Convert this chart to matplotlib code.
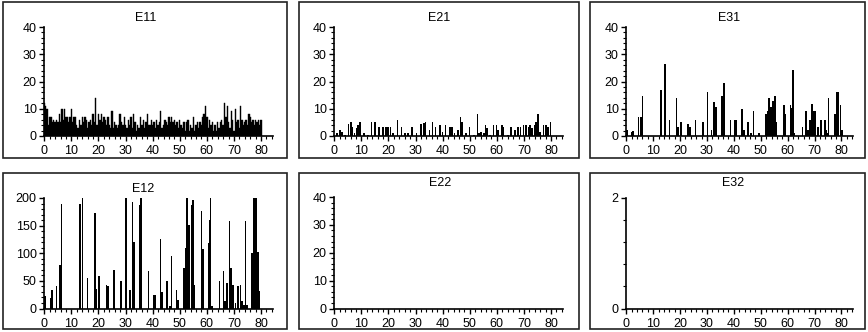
import matplotlib.pyplot as plt
import numpy as np
from matplotlib.patches import Rectangle
from matplotlib.ticker import MultipleLocator

plt.rcParams['font.family'] = ['Liberation Sans', 'DejaVu Sans']
plt.rcParams['font.size'] = 9

# E11 - one value every 0.5 from 0 to 80
e11 = [12, 11, 10, 4, 7, 7, 5, 6, 5, 6, 5, 8, 5, 10, 6, 10, 7, 7, 5, 7,
       10, 5, 7, 7, 4, 3, 6, 4, 7, 5, 7, 6, 3, 5, 6, 4, 8, 5, 14, 4,
       8, 6, 8, 5, 7, 6, 4, 7, 4, 3, 9, 3, 5, 4, 3, 4, 8, 5, 4, 7,
       4, 3, 6, 4, 7, 3, 8, 5, 2, 4, 3, 7, 4, 6, 3, 5, 8, 4, 4, 6,
       4, 5, 3, 6, 4, 5, 9, 3, 4, 6, 5, 4, 7, 5, 7, 5, 6, 4, 5, 3,
       6, 4, 3, 5, 2, 5, 6, 2, 4, 3, 7, 2, 4, 5, 3, 5, 4, 7, 8, 11,
       7, 3, 6, 4, 5, 2, 4, 2, 5, 3, 5, 6, 4, 12, 7, 11, 5, 3, 9, 6,
       2, 10, 5, 6, 3, 11, 6, 4, 5, 6, 4, 8, 7, 5, 6, 4, 6, 5, 6, 4, 6]
e11_x = np.arange(len(e11)) * 0.5

# E21
e21_x = [0.9, 2.0, 2.9, 4.0, 5.2, 6.1, 6.7, 7.5, 8.2, 8.8, 9.4, 10.9, 12.5, 13.7, 15.0,
         16.6, 18.0, 19.0, 19.9, 20.7, 21.7, 23.3, 24.8, 26.0, 27.2, 28.7, 30.3, 31.9,
         33.0, 33.6, 35.2, 36.2, 37.3, 38.9, 39.9, 41.1, 42.6, 43.4, 44.4, 45.6, 46.6,
         47.2, 48.5, 49.9, 51.5, 52.8, 53.4, 54.2, 55.2, 55.8, 56.4, 57.5, 58.8, 59.8,
         60.4, 61.8, 62.5, 64.0, 65.3, 66.7, 67.7, 68.7, 69.9, 70.8, 71.7, 72.3, 73.0,
         73.9, 74.5, 75.1, 75.9, 77.2, 78.2, 78.8, 79.8]
e21_y = [1.2, 2.2, 1.5, 0.5, 4.3, 5, 3.4, 1, 2.8, 4, 5, 1, 0.5, 5, 5,
         3.2, 3.2, 3.2, 3.2, 3.2, 1, 6, 3.2, 1, 1, 3.2, 1, 4.3,
         4.6, 5, 2.2, 5, 3.2, 4, 1.5, 4, 3.2, 3.2, 1, 2.2, 7,
         5, 1, 3.2, 0.5, 8, 1, 1.5, 1, 4, 2.8, 0.5, 4, 4,
         2.2, 4, 3.2, 0.5, 3.2, 2.2, 3.2, 3.2, 4, 4, 3.2, 4, 2.8,
         4, 5, 8, 1.5, 4, 4, 3.2, 5]

# E31
e31_x = [0.0, 0.5, 2.0, 2.5, 4.5, 5.5, 6.0, 13.0, 14.3, 16.0, 18.7, 19.2, 20.3, 23.0,
         23.6, 25.7, 28.5, 30.2, 31.7, 32.7, 33.3, 35.7, 36.3, 38.8, 40.4, 41.0, 43.0,
         43.7, 45.3, 46.4, 47.3, 49.4, 52.0, 52.5, 53.1, 53.7, 54.6, 55.3, 55.8, 58.7,
         59.2, 61.0, 61.6, 62.1, 62.6, 65.5, 66.9, 67.5, 68.2, 69.0, 69.7, 70.3, 71.3,
         72.5, 73.8, 74.3, 74.9, 75.2, 77.5, 78.1, 78.7, 79.6, 80.2]
e31_y = [2.2, 2.2, 1.5, 2, 7, 7, 14.8, 17, 26.6, 6, 13.8, 3.2, 5, 4.3,
         3.3, 6, 5, 16, 2.2, 12.6, 10.7, 14.8, 19.3, 6, 6, 6, 10,
         2.2, 5, 1, 9.2, 1, 8, 9, 13.8, 10.7, 12.8, 14.8, 5, 11.3,
         8, 11.3, 10.4, 24.4, 1, 3.2, 9.2, 2.2, 6, 11.7, 9.2, 9.2, 3.2,
         6, 6, 2.2, 1, 13.8, 8, 16, 16, 11.3, 2.2]

# E12
e12_x = [0.3, 2.5, 2.9, 4.5, 5.8, 6.4, 13.1, 14.1, 16.0, 18.7, 19.1, 20.3, 23.0, 23.6,
         25.7, 28.2, 30.1, 31.6, 32.5, 33.2, 35.2, 35.8, 38.5, 40.5, 41.0, 42.9, 43.5,
         45.4, 46.3, 46.9, 48.8, 49.4, 51.6, 52.2, 52.7, 53.3, 54.3, 54.9, 55.3, 58.0,
         58.6, 60.6, 61.0, 61.4, 62.0, 64.7, 66.2, 66.8, 67.5, 68.4, 69.0, 69.6, 70.6,
         71.4, 72.4, 73.0, 73.6, 74.3, 74.8, 76.6, 77.3, 78.2, 78.8, 79.4]
e12_y = [23, 19, 34, 40, 79, 189, 189, 200, 55, 172, 35, 59, 43, 40,
         70, 49, 200, 33, 193, 121, 187, 200, 68, 24, 24, 125, 30,
         49, 5, 95, 33, 16, 73, 109, 200, 151, 187, 196, 43, 177,
         107, 118, 160, 200, 5, 50, 68, 13, 46, 158, 73, 43, 10,
         41, 43, 13, 7, 158, 7, 100, 200, 200, 103, 31]

xticks = [0, 10, 20, 30, 40, 50, 60, 70, 80]

W, H = 868, 332
fig = plt.figure(figsize=(8.68, 3.32), dpi=100)


def add_ax(x0, y0, x1, y1):
    return fig.add_axes([x0 / W, 1 - y1 / H, (x1 - x0) / W, (y1 - y0) / H])


def frame(x0, y0, x1, y1):
    fig.patches.append(Rectangle((x0 / W, 1 - y1 / H), (x1 - x0) / W, (y1 - y0) / H,
                                 transform=fig.transFigure, fill=False,
                                 ec='#222222', lw=1.2))


def style(ax, ymax, ymajor, yminor, title, tx, ty):
    ax.set_xlim(0, 84.3)
    ax.set_ylim(0, ymax)
    for s in ['top', 'right']:
        ax.spines[s].set_visible(False)
    for s in ['left', 'bottom']:
        ax.spines[s].set_linewidth(1.2)
    ax.set_xticks(xticks)
    ax.xaxis.set_minor_locator(MultipleLocator(2))
    ax.yaxis.set_major_locator(MultipleLocator(ymajor))
    ax.yaxis.set_minor_locator(MultipleLocator(yminor))
    ax.tick_params(which='major', direction='out', length=3.5, width=1, pad=3)
    ax.tick_params(which='minor', direction='out', length=2, width=0.8)
    ax.tick_params(axis='y', pad=2)
    ax.patch.set_alpha(0)
    fig.text(tx / W, 1 - ty / H, title, ha='center', va='center', fontsize=9)


# panel frames
frame(3, 2, 287, 158)
frame(299, 2, 579, 158)
frame(590, 2, 865, 158)
frame(3, 173, 287, 329)
frame(299, 173, 579, 329)
frame(590, 173, 865, 329)

ax = add_ax(44.3, 27, 272.7, 136)
ax.bar(e11_x, e11, width=0.5, color='black', ec='black', linewidth=0.3)
style(ax, 40, 10, 2, 'E11', 146, 18)

ax = add_ax(334.3, 27, 562.7, 136)
ax.bar(e21_x, e21_y, width=0.6, color='black', linewidth=0)
style(ax, 40, 10, 2, 'E21', 439, 18)

ax = add_ax(626.3, 27, 853, 136)
ax.bar(e31_x, e31_y, width=0.6, color='black', linewidth=0)
style(ax, 40, 10, 2, 'E31', 729, 18)

ax = add_ax(44.3, 198, 272.7, 308.5)
ax.bar(e12_x, e12_y, width=0.6, color='black', linewidth=0)
style(ax, 200, 50, 10, 'E12', 143, 189)

ax = add_ax(334.3, 197, 562.7, 308.5)
style(ax, 40, 10, 2, 'E22', 440, 183)

ax = add_ax(626.3, 198, 853, 308.5)
style(ax, 2, 2, 0.4, 'E32', 733, 183)

fig.savefig('out.png', dpi=100)
